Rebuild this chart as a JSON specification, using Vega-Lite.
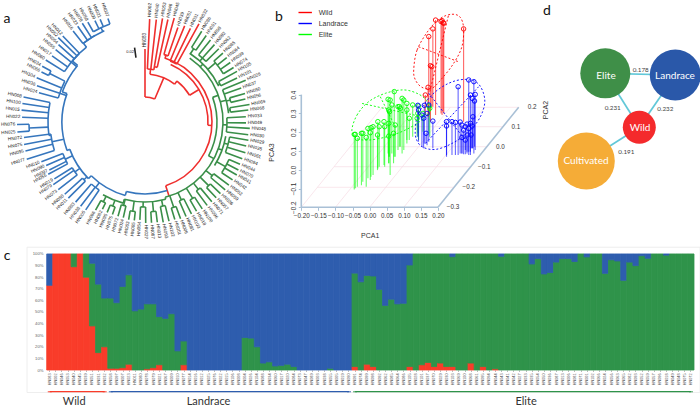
{"$schema":"https://vega.github.io/schema/vega-lite/v6.json","padding":0,"background":"white","config":{"view":{"stroke":null},"text":{"font":"Liberation Sans"},"axis":{"labelFont":"Liberation Sans","titleFont":"Liberation Sans","grid":false}},
"resolve":{"scale":{"color":"independent","stroke":"independent","size":"independent"}},
"datasets":{
"tips":[
{"s":"HN083","c":"W","t":0,"r":25,"r2":73,"l":82},{"s":"HN002","c":"W","t":2.6,"r":53,"r2":103,"l":112},{"s":"HN040","c":"W","t":6.3,"r":53,"r2":103,"l":112},{"s":"HN053","c":"W","t":9.6,"r":56,"r2":105,"l":114},{"s":"HN046","c":"W","t":12.6,"r":56,"r2":105,"l":114},{"s":"HN045","c":"W","t":15.7,"r":70,"r2":108,"l":117},{"s":"HN039","c":"W","t":19.2,"r":70,"r2":100,"l":109},{"s":"HN051","c":"W","t":22.4,"r":66,"r2":104,"l":113},{"s":"HN031","c":"W","t":25.9,"r":66,"r2":104,"l":113},{"s":"HN032","c":"W","t":28.8,"r":66,"r2":112,"l":121},
{"s":"HN086","c":"E","t":32,"r":88,"r2":107,"l":116},{"s":"HN091","c":"E","t":35.3,"r":88,"r2":106,"l":115},{"s":"HN098","c":"E","t":38.6,"r":86,"r2":105,"l":114},{"s":"HN092","c":"E","t":41.9,"r":86,"r2":104,"l":113},{"s":"HN062","c":"E","t":45.2,"r":86,"r2":104,"l":113},{"s":"HN085","c":"E","t":48.5,"r":92,"r2":104,"l":113},{"s":"HN064","c":"E","t":51.8,"r":92,"r2":104,"l":113},{"s":"HN099","c":"E","t":55.1,"r":92,"r2":104,"l":113},{"s":"HN074","c":"E","t":58.4,"r":92,"r2":104,"l":113},{"s":"HN105","c":"E","t":61.2,"r":84,"r2":105,"l":114},{"s":"HN101","c":"E","t":64.5,"r":84,"r2":102,"l":111},{"s":"HN028","c":"E","t":67.5,"r":84,"r2":109,"l":118},{"s":"HN037","c":"E","t":70.6,"r":84,"r2":102,"l":111},{"s":"HN050","c":"E","t":74.1,"r":88,"r2":104,"l":113},{"s":"HN056","c":"E","t":77.1,"r":88,"r2":103,"l":112},{"s":"HN069","c":"E","t":80.5,"r":86,"r2":106,"l":115},{"s":"HN068","c":"E","t":83.4,"r":86,"r2":104,"l":113},{"s":"HN033","c":"E","t":87,"r":82,"r2":101,"l":110},{"s":"HN049","c":"E","t":90.5,"r":82,"r2":101,"l":110},{"s":"HN048","c":"E","t":93.5,"r":82,"r2":105,"l":114},{"s":"HN030","c":"E","t":97,"r":82,"r2":104,"l":113},{"s":"HN029","c":"E","t":100,"r":86,"r2":105,"l":114},{"s":"HN035","c":"E","t":103.3,"r":86,"r2":104,"l":113},{"s":"HN061","c":"E","t":107,"r":86,"r2":105,"l":114},{"s":"HN094","c":"E","t":110.7,"r":86,"r2":104,"l":113},{"s":"HN044","c":"E","t":114,"r":92,"r2":104,"l":113},{"s":"HN070","c":"E","t":117.2,"r":92,"r2":105,"l":114},{"s":"HN041","c":"E","t":120,"r":92,"r2":106,"l":115},{"s":"HN042","c":"E","t":123.5,"r":92,"r2":105,"l":114},
{"s":"HN052","c":"E","t":127,"r":86,"r2":105,"l":114},{"s":"HN059","c":"E","t":130.2,"r":86,"r2":105,"l":114},{"s":"HN036","c":"E","t":133.5,"r":90,"r2":104,"l":113},{"s":"HN057","c":"E","t":136.8,"r":90,"r2":104,"l":113},{"s":"HN071","c":"E","t":140,"r":86,"r2":104,"l":113},{"s":"HN096","c":"E","t":143.3,"r":86,"r2":104,"l":113},{"s":"HN100","c":"E","t":146.6,"r":90,"r2":104,"l":113},{"s":"HN018","c":"E","t":150,"r":90,"r2":103,"l":112},{"s":"HN103","c":"E","t":153.2,"r":86,"r2":103,"l":112},{"s":"HN081","c":"E","t":156.5,"r":86,"r2":103,"l":112},{"s":"HN006","c":"E","t":159.8,"r":90,"r2":103,"l":112},{"s":"HN001","c":"E","t":163,"r":90,"r2":102,"l":111},{"s":"HN102","c":"E","t":166.4,"r":86,"r2":102,"l":111},{"s":"HN093","c":"E","t":169.7,"r":86,"r2":102,"l":111},{"s":"HN013","c":"E","t":173,"r":90,"r2":101,"l":110},{"s":"HN087","c":"E","t":176.3,"r":90,"r2":101,"l":110},{"s":"HN027","c":"E","t":179.6,"r":85,"r2":101,"l":110},{"s":"HN054","c":"E","t":183,"r":85,"r2":98,"l":107},{"s":"HN065","c":"E","t":186.2,"r":90,"r2":99,"l":108},{"s":"HN063","c":"E","t":189.5,"r":90,"r2":99,"l":108},{"s":"HN024","c":"E","t":192.8,"r":86,"r2":98,"l":107},{"s":"HN072","c":"E","t":196,"r":86,"r2":98,"l":107},{"s":"HN075","c":"E","t":199.4,"r":90,"r2":98,"l":107},{"s":"HN095","c":"E","t":202.7,"r":90,"r2":98,"l":107},{"s":"HN082","c":"E","t":206,"r":90,"r2":97,"l":106},{"s":"HN066","c":"E","t":209.3,"r":90,"r2":101,"l":110},
{"s":"HN005","c":"L","t":214,"r":82,"r2":106,"l":115},{"s":"HN038","c":"L","t":217.4,"r":82,"r2":106,"l":115},{"s":"HN003","c":"L","t":220.9,"r":82,"r2":106,"l":115},{"s":"HN011","c":"L","t":225.2,"r":84,"r2":108,"l":117},{"s":"HN080","c":"L","t":228,"r":84,"r2":108,"l":117},{"s":"HN073","c":"L","t":232,"r":86,"r2":110,"l":119},{"s":"HN079","c":"L","t":235.7,"r":86,"r2":111,"l":120},{"s":"HN019","c":"L","t":237.9,"r":86,"r2":107,"l":116},{"s":"HN055","c":"L","t":241.6,"r":88,"r2":110,"l":119},{"s":"HN097","c":"L","t":243.4,"r":88,"r2":107,"l":116},{"s":"HN090","c":"L","t":246.2,"r":88,"r2":108,"l":117},{"s":"HN010","c":"L","t":249,"r":88,"r2":111,"l":120},
{"s":"HN077","c":"L","t":252.5,"r":95,"r2":124,"l":133},{"s":"HN095","c":"L","t":256.4,"r":95,"r2":123,"l":132},{"s":"HN075","c":"L","t":259.5,"r":95,"r2":123,"l":132},{"s":"HN072","c":"L","t":262.7,"r":95,"r2":122,"l":131},{"s":"HN025","c":"L","t":265.5,"r":116,"r2":128,"l":137},{"s":"HN076","c":"L","t":268.9,"r":116,"r2":128,"l":137},{"s":"HN022","c":"L","t":272.2,"r":97,"r2":123,"l":132},{"s":"HN015","c":"L","t":275.5,"r":97,"r2":124,"l":133},{"s":"HN100","c":"L","t":278.6,"r":97,"r2":124,"l":133},{"s":"HN008","c":"L","t":281.6,"r":97,"r2":124,"l":133},
{"s":"HN024","c":"L","t":285.4,"r":90,"r2":110,"l":119},{"s":"HN036","c":"L","t":288.6,"r":90,"r2":114,"l":123},{"s":"HN104","c":"L","t":292.2,"r":90,"r2":117,"l":126},{"s":"HN066","c":"L","t":295.8,"r":107,"r2":115,"l":124},{"s":"HN034","c":"L","t":298.5,"r":107,"r2":117,"l":126},{"s":"HN060","c":"L","t":302,"r":95,"r2":117,"l":126},{"s":"HN017","c":"L","t":305.4,"r":95,"r2":114,"l":123},{"s":"HN055","c":"L","t":309,"r":95,"r2":115,"l":124},{"s":"HN054","c":"L","t":311.8,"r":95,"r2":116,"l":125},{"s":"HN052","c":"L","t":314.2,"r":95,"r2":121,"l":130},{"s":"HN012","c":"L","t":316.3,"r":95,"r2":119,"l":128},{"s":"HN016","c":"L","t":321.7,"r":100,"r2":116,"l":125},{"s":"HN023","c":"L","t":324.9,"r":100,"r2":117,"l":126},{"s":"HN078","c":"L","t":327.6,"r":100,"r2":117,"l":126},{"s":"HN058","c":"L","t":330.2,"r":104,"r2":115,"l":124},{"s":"HN009","c":"L","t":333.7,"r":104,"r2":113,"l":122},{"s":"HN021","c":"L","t":336.4,"r":104,"r2":112,"l":121},{"s":"HN007","c":"L","t":340.3,"r":104,"r2":110,"l":119}
],
"branches":[
{"c":"W","t":0,"t2":23,"r":25,"r2":25},{"c":"W","t":23,"t2":23,"r":25,"r2":48},{"c":"W","t":2.6,"t2":9.6,"r":53,"r2":53},{"c":"W","t":6,"t2":6,"r":48,"r2":53},{"c":"W","t":9.6,"t2":12.6,"r":56,"r2":56},{"c":"W","t":9.6,"t2":9.6,"r":53,"r2":56},{"c":"W","t":6,"t2":38,"r":48,"r2":48},{"c":"W","t":38,"t2":38,"r":48,"r2":52},{"c":"W","t":38,"t2":59,"r":52,"r2":52},{"c":"W","t":59,"t2":59,"r":52,"r2":63},{"c":"W","t":24,"t2":93,"r":63,"r2":63},{"c":"W","t":17,"t2":162,"r":67,"r2":67},{"c":"W","t":93,"t2":93,"r":63,"r2":67},{"c":"W","t":15.7,"t2":19.2,"r":70,"r2":70},{"c":"W","t":17.5,"t2":17.5,"r":67,"r2":70},{"c":"W","t":22.4,"t2":28.8,"r":66,"r2":66},{"c":"W","t":162,"t2":162,"r":67,"r2":78},
{"c":"E","t":35,"t2":165,"r":78,"r2":78},{"c":"E","t":165,"t2":195,"r":80,"r2":80},{"c":"E","t":195,"t2":210,"r":84,"r2":84},{"c":"E","t":165,"t2":165,"r":78,"r2":80},{"c":"E","t":195,"t2":195,"r":80,"r2":84},{"c":"E","t":70,"t2":118,"r":72,"r2":72},{"c":"E","t":70,"t2":70,"r":72,"r2":78},{"c":"E","t":118,"t2":118,"r":72,"r2":78},
{"c":"E","t":33,"t2":64,"r":82,"r2":82},{"c":"E","t":45,"t2":45,"r":78,"r2":82},{"c":"E","t":32,"t2":35.3,"r":88,"r2":88},{"c":"E","t":33.6,"t2":33.6,"r":82,"r2":88},{"c":"E","t":38.6,"t2":45.2,"r":86,"r2":86},{"c":"E","t":42,"t2":42,"r":82,"r2":86},{"c":"E","t":48.5,"t2":58.4,"r":92,"r2":92},{"c":"E","t":50,"t2":50,"r":82,"r2":92},{"c":"E","t":61.2,"t2":64.5,"r":84,"r2":84},{"c":"E","t":63,"t2":63,"r":82,"r2":84},
{"c":"E","t":67.5,"t2":84,"r":84,"r2":84},{"c":"E","t":75,"t2":75,"r":78,"r2":84},{"c":"E","t":74.1,"t2":77.1,"r":88,"r2":88},{"c":"E","t":75.5,"t2":75.5,"r":84,"r2":88},{"c":"E","t":80.5,"t2":83.4,"r":86,"r2":86},{"c":"E","t":82,"t2":82,"r":84,"r2":86},{"c":"E","t":87,"t2":97,"r":82,"r2":82},{"c":"E","t":92,"t2":92,"r":78,"r2":82},{"c":"E","t":100,"t2":122,"r":82,"r2":82},{"c":"E","t":110,"t2":110,"r":78,"r2":82},{"c":"E","t":100,"t2":110.7,"r":86,"r2":86},{"c":"E","t":105,"t2":105,"r":82,"r2":86},{"c":"E","t":114,"t2":123.5,"r":92,"r2":92},{"c":"E","t":119,"t2":119,"r":82,"r2":92},
{"c":"E","t":127,"t2":130.2,"r":86,"r2":86},{"c":"E","t":128.6,"t2":128.6,"r":78,"r2":86},{"c":"E","t":133.5,"t2":136.8,"r":90,"r2":90},{"c":"E","t":135,"t2":135,"r":78,"r2":90},{"c":"E","t":140,"t2":143.3,"r":86,"r2":86},{"c":"E","t":141.6,"t2":141.6,"r":78,"r2":86},{"c":"E","t":146.6,"t2":150,"r":90,"r2":90},{"c":"E","t":148,"t2":148,"r":78,"r2":90},{"c":"E","t":153.2,"t2":156.5,"r":86,"r2":86},{"c":"E","t":155,"t2":155,"r":78,"r2":86},{"c":"E","t":159.8,"t2":163,"r":90,"r2":90},{"c":"E","t":161.4,"t2":161.4,"r":78,"r2":90},{"c":"E","t":166.4,"t2":169.7,"r":86,"r2":86},{"c":"E","t":168,"t2":168,"r":80,"r2":86},{"c":"E","t":173,"t2":176.3,"r":90,"r2":90},{"c":"E","t":174.6,"t2":174.6,"r":80,"r2":90},{"c":"E","t":179.6,"t2":183,"r":85,"r2":85},{"c":"E","t":181.3,"t2":181.3,"r":80,"r2":85},{"c":"E","t":186.2,"t2":189.5,"r":90,"r2":90},{"c":"E","t":187.8,"t2":187.8,"r":80,"r2":90},{"c":"E","t":192.8,"t2":196,"r":86,"r2":86},{"c":"E","t":194.4,"t2":194.4,"r":80,"r2":86},{"c":"E","t":199.4,"t2":202.7,"r":90,"r2":90},{"c":"E","t":201,"t2":201,"r":84,"r2":90},{"c":"E","t":206,"t2":209.3,"r":90,"r2":90},{"c":"E","t":207.6,"t2":207.6,"r":84,"r2":90},
{"c":"L","t":162,"t2":195,"r":72,"r2":72},{"c":"L","t":195,"t2":225,"r":76,"r2":76},{"c":"L","t":225,"t2":250,"r":80,"r2":80},{"c":"L","t":250,"t2":290,"r":83,"r2":83},{"c":"L","t":290,"t2":310,"r":88,"r2":88},{"c":"L","t":310,"t2":322,"r":95,"r2":95},{"c":"L","t":322,"t2":336,"r":100,"r2":100},{"c":"L","t":195,"t2":195,"r":72,"r2":76},{"c":"L","t":225,"t2":225,"r":76,"r2":80},{"c":"L","t":250,"t2":250,"r":80,"r2":83},{"c":"L","t":290,"t2":290,"r":83,"r2":88},{"c":"L","t":310,"t2":310,"r":88,"r2":95},{"c":"L","t":322,"t2":322,"r":95,"r2":100},
{"c":"L","t":214,"t2":220.9,"r":82,"r2":82},{"c":"L","t":217,"t2":217,"r":76,"r2":82},{"c":"L","t":225.2,"t2":228,"r":84,"r2":84},{"c":"L","t":226.6,"t2":226.6,"r":80,"r2":84},{"c":"L","t":232,"t2":237.9,"r":86,"r2":86},{"c":"L","t":234.5,"t2":234.5,"r":80,"r2":86},{"c":"L","t":241.6,"t2":249,"r":88,"r2":88},{"c":"L","t":245,"t2":245,"r":80,"r2":88},
{"c":"L","t":252.5,"t2":262.7,"r":95,"r2":95},{"c":"L","t":258,"t2":258,"r":83,"r2":95},{"c":"L","t":262,"t2":281.6,"r":97,"r2":97},{"c":"L","t":262,"t2":262,"r":95,"r2":97},{"c":"L","t":267,"t2":267,"r":97,"r2":116},{"c":"L","t":265.5,"t2":268.9,"r":116,"r2":116},
{"c":"L","t":285.4,"t2":297,"r":90,"r2":90},{"c":"L","t":288.6,"t2":288.6,"r":83,"r2":90},{"c":"L","t":297,"t2":297,"r":90,"r2":107},{"c":"L","t":295.8,"t2":298.5,"r":107,"r2":107},{"c":"L","t":302,"t2":316.3,"r":95,"r2":95},{"c":"L","t":309,"t2":309,"r":88,"r2":95},{"c":"L","t":321.7,"t2":330,"r":100,"r2":100},{"c":"L","t":330.2,"t2":340.3,"r":104,"r2":104},{"c":"L","t":335,"t2":335,"r":100,"r2":104},
{"c":"S","t":352,"t2":352,"r":65,"r2":75}
],
"pca":[
{"g":"Elite","u":-0.045,"top":0.188,"base":-0.105},{"g":"Elite","u":-0.042,"top":0.188,"base":-0.099},{"g":"Elite","u":-0.036,"top":0.167,"base":-0.091},{"g":"Elite","u":-0.024,"top":0.194,"base":-0.082},{"g":"Elite","u":-0.02,"top":0.194,"base":-0.064},{"g":"Elite","u":-0.01,"top":0.172,"base":-0.091},{"g":"Elite","u":-0.005,"top":0.22,"base":-0.046},{"g":"Elite","u":0.002,"top":0.197,"base":-0.055},{"g":"Elite","u":0.004,"top":0.224,"base":-0.037},{"g":"Elite","u":0.01,"top":0.229,"base":-0.028},{"g":"Elite","u":0.023,"top":0.185,"base":-0.002},{"g":"Elite","u":0.024,"top":0.256,"base":0.007},{"g":"Elite","u":0.028,"top":0.229,"base":0.016},{"g":"Elite","u":0.042,"top":0.256,"base":0.025},{"g":"Elite","u":0.044,"top":0.229,"base":0.016},{"g":"Elite","u":0.056,"top":0.247,"base":0.034},{"g":"Elite","u":0.056,"top":0.179,"base":0.069},{"g":"Elite","u":0.06,"top":0.371,"base":-0.028},{"g":"Elite","u":0.056,"top":0.318,"base":0.034},{"g":"Elite","u":0.07,"top":0.194,"base":0.034},{"g":"Elite","u":0.072,"top":0.416,"base":0.069},{"g":"Elite","u":0.075,"top":0.238,"base":0.069},{"g":"Elite","u":0.065,"top":0.345,"base":0.087},{"g":"Elite","u":0.054,"top":0.375,"base":0.087},{"g":"Elite","u":0.058,"top":0.309,"base":0.069},{"g":"Elite","u":0.087,"top":0.336,"base":0.123},{"g":"Elite","u":0.095,"top":0.38,"base":0.087},{"g":"Elite","u":0.1,"top":0.371,"base":0.105},{"g":"Elite","u":0.083,"top":0.336,"base":0.105},{"g":"Elite","u":0.09,"top":0.327,"base":0.123},{"g":"Elite","u":0.109,"top":0.353,"base":0.158},{"g":"Elite","u":0.109,"top":0.318,"base":0.14},{"g":"Elite","u":0.116,"top":0.274,"base":0.158},{"g":"Elite","u":0.126,"top":0.345,"base":0.176},{"g":"Elite","u":0.143,"top":0.339,"base":0.158},{"g":"Elite","u":0.141,"top":0.3,"base":0.194},{"g":"Elite","u":0.176,"top":0.327,"base":0.176},{"g":"Elite","u":0.173,"top":0.339,"base":0.194},{"g":"Elite","u":0.156,"top":0.3,"base":0.202},{"g":"Elite","u":0.139,"top":0.274,"base":0.176},
{"g":"Landrace","u":0.141,"top":0.343,"base":0.176},{"g":"Landrace","u":0.143,"top":0.318,"base":0.149},{"g":"Landrace","u":0.16,"top":0.343,"base":0.14},{"g":"Landrace","u":0.153,"top":0.291,"base":0.123},{"g":"Landrace","u":0.173,"top":0.345,"base":0.149},{"g":"Landrace","u":0.168,"top":0.3,"base":0.131},{"g":"Landrace","u":0.158,"top":0.274,"base":0.114},{"g":"Landrace","u":0.165,"top":0.194,"base":0.14},{"g":"Landrace","u":0.185,"top":0.259,"base":0.114},{"g":"Landrace","u":0.225,"top":0.256,"base":0.069},{"g":"Landrace","u":0.225,"top":0.233,"base":0.078},{"g":"Landrace","u":0.241,"top":0.256,"base":0.078},{"g":"Landrace","u":0.251,"top":0.252,"base":0.078},{"g":"Landrace","u":0.265,"top":0.254,"base":0.087},{"g":"Landrace","u":0.259,"top":0.442,"base":0.078},{"g":"Landrace","u":0.29,"top":0.478,"base":0.078},{"g":"Landrace","u":0.305,"top":0.469,"base":0.087},{"g":"Landrace","u":0.295,"top":0.398,"base":0.096},{"g":"Landrace","u":0.309,"top":0.401,"base":0.105},{"g":"Landrace","u":0.3,"top":0.38,"base":0.114},{"g":"Landrace","u":0.307,"top":0.366,"base":0.123},{"g":"Landrace","u":0.302,"top":0.282,"base":0.114},{"g":"Landrace","u":0.295,"top":0.247,"base":0.078},{"g":"Landrace","u":0.285,"top":0.243,"base":0.087},{"g":"Landrace","u":0.27,"top":0.238,"base":0.087},{"g":"Landrace","u":0.28,"top":0.229,"base":0.083},{"g":"Landrace","u":0.275,"top":0.211,"base":0.083},{"g":"Landrace","u":0.29,"top":0.22,"base":0.096},{"g":"Landrace","u":0.3,"top":0.233,"base":0.114},{"g":"Landrace","u":0.27,"top":0.172,"base":0.087},{"g":"Landrace","u":0.285,"top":0.185,"base":0.096},{"g":"Landrace","u":0.297,"top":0.185,"base":0.114},{"g":"Landrace","u":0.28,"top":0.158,"base":0.105},
{"g":"Wild","u":0.193,"top":0.797,"base":0.291},{"g":"Wild","u":0.212,"top":0.794,"base":0.291},{"g":"Wild","u":0.217,"top":0.78,"base":0.3},{"g":"Wild","u":0.275,"top":0.75,"base":0.256},{"g":"Wild","u":0.185,"top":0.75,"base":0.336},{"g":"Wild","u":0.173,"top":0.709,"base":0.291},{"g":"Wild","u":0.178,"top":0.554,"base":0.256},{"g":"Wild","u":0.182,"top":0.549,"base":0.336},{"g":"Wild","u":0.171,"top":0.439,"base":0.282},{"g":"Wild","u":0.163,"top":0.398,"base":0.291},{"g":"Wild","u":0.209,"top":0.789,"base":0.3},{"g":"Wild","u":0.215,"top":0.783,"base":0.309}
],
"ellipses":[
{"g":"Elite","o":1,"u":-0.052,"v":0.208},{"g":"Elite","o":2,"u":-0.037,"v":0.291},{"g":"Elite","o":3,"u":-0.003,"v":0.362},{"g":"Elite","o":4,"u":0.046,"v":0.407},{"g":"Elite","o":5,"u":0.1,"v":0.425},{"g":"Elite","o":6,"u":0.143,"v":0.403},{"g":"Elite","o":7,"u":0.17,"v":0.362},{"g":"Elite","o":8,"u":0.178,"v":0.318},{"g":"Elite","o":9,"u":0.153,"v":0.265},{"g":"Elite","o":10,"u":0.104,"v":0.211},{"g":"Elite","o":11,"u":0.051,"v":0.176},{"g":"Elite","o":12,"u":-0.003,"v":0.158},{"g":"Elite","o":13,"u":-0.037,"v":0.167},
{"g":"Landrace","o":1,"u":0.134,"v":0.22},{"g":"Landrace","o":2,"u":0.143,"v":0.3},{"g":"Landrace","o":3,"u":0.182,"v":0.398},{"g":"Landrace","o":4,"u":0.231,"v":0.46},{"g":"Landrace","o":5,"u":0.28,"v":0.481},{"g":"Landrace","o":6,"u":0.319,"v":0.456},{"g":"Landrace","o":7,"u":0.337,"v":0.371},{"g":"Landrace","o":8,"u":0.324,"v":0.282},{"g":"Landrace","o":9,"u":0.29,"v":0.202},{"g":"Landrace","o":10,"u":0.241,"v":0.14},{"g":"Landrace","o":11,"u":0.192,"v":0.108},{"g":"Landrace","o":12,"u":0.153,"v":0.123},{"g":"Landrace","o":13,"u":0.136,"v":0.167},
{"g":"Wild","o":1,"u":0.129,"v":0.531},{"g":"Wild","o":2,"u":0.139,"v":0.638},{"g":"Wild","o":3,"u":0.173,"v":0.744},{"g":"Wild","o":4,"u":0.207,"v":0.806},{"g":"Wild","o":5,"u":0.241,"v":0.828},{"g":"Wild","o":6,"u":0.265,"v":0.812},{"g":"Wild","o":7,"u":0.275,"v":0.753},{"g":"Wild","o":8,"u":0.27,"v":0.655},{"g":"Wild","o":9,"u":0.246,"v":0.567},{"g":"Wild","o":10,"u":0.212,"v":0.487},{"g":"Wild","o":11,"u":0.182,"v":0.433},{"g":"Wild","o":12,"u":0.153,"v":0.439},{"g":"Wild","o":13,"u":0.134,"v":0.478}
],
"struct":[
{"s":"HN083","K1":73,"K2":0,"K3":27},{"s":"HN002","K1":100,"K2":0,"K3":0},{"s":"HN046","K1":100,"K2":0,"K3":0},{"s":"HN053","K1":100,"K2":0,"K3":0},{"s":"HN040","K1":89,"K2":11,"K3":0},{"s":"HN045","K1":100,"K2":0,"K3":0},{"s":"HN039","K1":80,"K2":20,"K3":0},{"s":"HN051","K1":38,"K2":54,"K3":8},{"s":"HN031","K1":15,"K2":59,"K3":26},{"s":"HN032","K1":20,"K2":42,"K3":38},
{"s":"HN058","K1":1.5,"K2":60.5,"K3":38},{"s":"HN097","K1":1.5,"K2":56.5,"K3":42},{"s":"HN007","K1":2,"K2":70,"K3":28},{"s":"HN023","K1":5,"K2":77,"K3":18},{"s":"HN011","K1":0,"K2":51,"K3":49},{"s":"HN080","K1":0,"K2":52.5,"K3":47.5},{"s":"HN078","K1":1,"K2":56,"K3":43},{"s":"HN079","K1":2,"K2":55,"K3":43},{"s":"HN021","K1":4.5,"K2":41.5,"K3":54},{"s":"HN067","K1":0,"K2":44.5,"K3":55.5},{"s":"HN009","K1":0,"K2":48.5,"K3":51.5},{"s":"HN010","K1":0,"K2":16.5,"K3":83.5},{"s":"HN077","K1":4.5,"K2":20.5,"K3":75},
{"s":"HN014","K1":0,"K2":0,"K3":100},{"s":"HN016","K1":0,"K2":0,"K3":100},{"s":"HN012","K1":0,"K2":0,"K3":100},{"s":"HN025","K1":0,"K2":0,"K3":100},{"s":"HN076","K1":0,"K2":0,"K3":100},{"s":"HN022","K1":0,"K2":0,"K3":100},{"s":"HN015","K1":0,"K2":0,"K3":100},{"s":"HN106","K1":0,"K2":0,"K3":100},{"s":"HN008","K1":0,"K2":0,"K3":100},
{"s":"HN004","K1":0,"K2":28,"K3":72},{"s":"HN026","K1":0,"K2":27.5,"K3":72.5},{"s":"HN104","K1":0,"K2":20,"K3":80},{"s":"HN088","K1":0,"K2":6,"K3":94},{"s":"HN034","K1":0,"K2":7,"K3":93},{"s":"HN060","K1":0,"K2":3.5,"K3":96.5},{"s":"HN017","K1":0,"K2":4,"K3":96},{"s":"HN020","K1":0,"K2":5,"K3":95},{"s":"HN084","K1":0,"K2":3,"K3":97},{"s":"HN073","K1":0,"K2":0,"K3":100},{"s":"HN047","K1":0,"K2":0,"K3":100},{"s":"HN089","K1":0,"K2":0,"K3":100},{"s":"HN003","K1":0,"K2":0,"K3":100},{"s":"HN038","K1":0,"K2":0,"K3":100},{"s":"HN055","K1":0,"K2":1.5,"K3":98.5},{"s":"HN005","K1":0,"K2":0,"K3":100},{"s":"HN019","K1":0,"K2":0,"K3":100},{"s":"HN090","K1":0,"K2":0,"K3":100},
{"s":"HN091","K1":3,"K2":80.5,"K3":16.5},{"s":"HN074","K1":0,"K2":76,"K3":24},{"s":"HN099","K1":5,"K2":76.5,"K3":18.5},{"s":"HN098","K1":3,"K2":78,"K3":19},{"s":"HN092","K1":0,"K2":69.5,"K3":30.5},{"s":"HN062","K1":0,"K2":55.7,"K3":44.3},{"s":"HN085","K1":0,"K2":61,"K3":39},{"s":"HN064","K1":0,"K2":57,"K3":43},{"s":"HN086","K1":0,"K2":57.5,"K3":42.5},{"s":"HN105","K1":3,"K2":87.5,"K3":9.5},{"s":"HN028","K1":0,"K2":100,"K3":0},{"s":"HN101","K1":4.5,"K2":95.5,"K3":0},{"s":"HN037","K1":6.5,"K2":93.5,"K3":0},{"s":"HN070","K1":3,"K2":97,"K3":0},{"s":"HN029","K1":6,"K2":94,"K3":0},{"s":"HN030","K1":3,"K2":97,"K3":0},{"s":"HN103","K1":3,"K2":94.7,"K3":2.3},{"s":"HN069","K1":0,"K2":100,"K3":0},{"s":"HN100","K1":0,"K2":100,"K3":0},{"s":"HN068","K1":6,"K2":94,"K3":0},{"s":"HN061","K1":0,"K2":100,"K3":0},{"s":"HN095","K1":3,"K2":97,"K3":0},{"s":"HN094","K1":0,"K2":100,"K3":0},{"s":"HN044","K1":1,"K2":99,"K3":0},{"s":"HN043","K1":0,"K2":98,"K3":2},{"s":"HN041","K1":0,"K2":100,"K3":0},{"s":"HN042","K1":0,"K2":100,"K3":0},{"s":"HN027","K1":0,"K2":100,"K3":0},{"s":"HN033","K1":0,"K2":100,"K3":0},{"s":"HN035","K1":0,"K2":91.4,"K3":8.6},{"s":"HN054","K1":0,"K2":96,"K3":4},{"s":"HN050","K1":0,"K2":82.8,"K3":17.2},{"s":"HN036","K1":0,"K2":84,"K3":16},{"s":"HN087","K1":0,"K2":93,"K3":7},{"s":"HN013","K1":0,"K2":96,"K3":4},{"s":"HN006","K1":0,"K2":96,"K3":4},{"s":"HN081","K1":0,"K2":93.5,"K3":6.5},{"s":"HN071","K1":0,"K2":100,"K3":0},{"s":"HN001","K1":0,"K2":97.5,"K3":2.5},{"s":"HN102","K1":0,"K2":100,"K3":0},{"s":"HN066","K1":0,"K2":100,"K3":0},{"s":"HN024","K1":0,"K2":83.3,"K3":16.7},{"s":"HN056","K1":0,"K2":95,"K3":5},{"s":"HN063","K1":0,"K2":94,"K3":6},{"s":"HN065","K1":0,"K2":77.3,"K3":22.7},{"s":"HN082","K1":0,"K2":93,"K3":7},{"s":"HN093","K1":0,"K2":90,"K3":10},{"s":"HN052","K1":0,"K2":98.5,"K3":1.5},{"s":"HN059","K1":0,"K2":96.3,"K3":3.7},{"s":"HN057","K1":0,"K2":100,"K3":0},{"s":"HN096","K1":0,"K2":100,"K3":0},{"s":"HN018","K1":0,"K2":99,"K3":1},{"s":"HN049","K1":0,"K2":100,"K3":0},{"s":"HN048","K1":0,"K2":100,"K3":0},{"s":"HN075","K1":0,"K2":100,"K3":0},{"s":"HN072","K1":0,"K2":100,"K3":0}
]
},
"vconcat":[
{"hconcat":[
{"width":286,"height":244,"layer":[
{"data":{"name":"tips"},"mark":{"type":"arc","fill":"transparent","strokeWidth":1.6},"encoding":{
"theta":{"field":"t","type":"quantitative","stack":null,"scale":{"domain":[0,360],"range":[0,6.28318]}},"theta2":{"field":"t"},
"radius":{"field":"r","type":"quantitative","scale":{"type":"linear","domain":[0,200],"range":[0,200]}},"radius2":{"field":"r2"},
"stroke":{"field":"c","type":"nominal","scale":{"domain":["W","E","L","S"],"range":["#ef2f2e","#3a8f49","#3676bd","#222222"]},"legend":null}}},
{"data":{"name":"branches"},"mark":{"type":"arc","fill":"transparent","strokeWidth":1.6},"encoding":{
"theta":{"field":"t","type":"quantitative","stack":null,"scale":{"domain":[0,360],"range":[0,6.28318]}},"theta2":{"field":"t2"},
"radius":{"field":"r","type":"quantitative","scale":{"type":"linear","domain":[0,200],"range":[0,200]}},"radius2":{"field":"r2"},
"stroke":{"field":"c","type":"nominal","scale":{"domain":["W","E","L","S"],"range":["#ef2f2e","#3a8f49","#3676bd","#222222"]},"legend":null}}},
{"data":{"name":"tips"},"mark":{"type":"text","fontSize":4.6,"color":"#222222","align":"center","baseline":"middle"},"encoding":{
"text":{"field":"s"},
"theta":{"field":"t","type":"quantitative","stack":null,"scale":{"domain":[0,360],"range":[0,6.28318]}},
"radius":{"field":"l","type":"quantitative","scale":{"type":"linear","domain":[0,200],"range":[0,200]}},
"angle":{"field":"t","type":"quantitative","scale":{"domain":[0,180,180.01,360],"range":[-90,90,-90,90]},"legend":null}}},
{"data":{"values":[{"txt":"0.02","t":348,"r":71.5}]},"mark":{"type":"text","fontSize":4,"color":"#222222"},"encoding":{"text":{"field":"txt"},"theta":{"field":"t","type":"quantitative","stack":null,"scale":{"domain":[0,360],"range":[0,6.28318]}},"radius":{"field":"r","type":"quantitative","scale":{"type":"linear","domain":[0,200],"range":[0,200]}}}},
{"data":{"values":[{"txt":"a","t":306.7,"r":172}]},"mark":{"type":"text","fontSize":14,"font":"Lato","color":"#111111"},"encoding":{"text":{"field":"txt"},"theta":{"field":"t","type":"quantitative","stack":null,"scale":{"domain":[0,360],"range":[0,6.28318]}},"radius":{"field":"r","type":"quantitative","scale":{"type":"linear","domain":[0,200],"range":[0,200]}}}}
]},
{"width":234,"height":246,"encoding":{
"x":{"type":"quantitative","scale":{"domain":[-0.2389,0.4459],"nice":false,"zero":false},"axis":{"orient":"bottom","offset":-38.7,"values":[-0.2,-0.15,-0.1,-0.05,0,0.05,0.1,0.15,0.2],"format":".2f","domain":false,"tickColor":"#a9c0d6","tickSize":3,"labelFontSize":6.3,"labelColor":"#333333","labelPadding":2,"labelFlush":false,"labelOverlap":false,"title":"PCA1","titleFontSize":7,"titleFontWeight":"normal","titleColor":"#333333","titleX":81.7,"titleY":24}},
"y":{"type":"quantitative","scale":{"domain":[-0.4061,0.9038],"nice":false,"zero":false},"axis":{"orient":"left","offset":-13.3,"values":[-0.2,-0.1,0,0.1,0.2,0.3,0.4],"format":".1f","domain":false,"tickColor":"#a9c0d6","tickSize":3,"labelAngle":-90,"labelAlign":"center","labelBaseline":"bottom","labelFontSize":6.3,"labelColor":"#333333","labelPadding":2,"labelOverlap":false,"title":"PCA3","titleFontSize":7,"titleFontWeight":"normal","titleColor":"#333333","titleX":-27,"titleY":152}}},
"layer":[
{"data":{"values":[{"u":-0.2,"v":-0.2,"u2":0.0362,"v2":0.3325},{"u":-0.1,"v":-0.2,"u2":0.1362,"v2":0.3325},{"u":0,"v":-0.2,"u2":0.2362,"v2":0.3325},{"u":0.1,"v":-0.2,"u2":0.3362,"v2":0.3325},{"u":-0.1528,"v":-0.0935,"u2":0.2472,"v2":-0.0935},{"u":-0.1041,"v":0.0162,"u2":0.2959,"v2":0.0162},{"u":-0.0569,"v":0.1227,"u2":0.3431,"v2":0.1227},{"u":-0.0097,"v":0.2292,"u2":0.3903,"v2":0.2292},{"u":0.0362,"v":0.3325,"u2":0.4362,"v2":0.3325}]},"mark":{"type":"rule","stroke":"#f6dbe4","strokeWidth":0.7},"encoding":{"x":{"field":"u"},"y":{"field":"v"},"x2":{"field":"u2"},"y2":{"field":"v2"}}},
{"data":{"values":[{"u":-0.2,"v":-0.2,"u2":0.2,"v2":-0.2,"w":"front"},{"u":-0.2,"v":-0.2,"u2":-0.2,"v2":0.4,"w":"front"},{"u":0.2,"v":-0.2,"u2":0.4362,"v2":0.3325,"w":"side"}]},"mark":{"type":"rule","stroke":"#a9c0d6","strokeWidth":1.6},"encoding":{"x":{"field":"u"},"y":{"field":"v"},"x2":{"field":"u2"},"y2":{"field":"v2"}}},
{"data":{"values":[{"u":0.4752,"v":0.3357,"lab":"0.2"},{"u":0.4283,"v":0.2292,"lab":"0.1"},{"u":0.3824,"v":0.1227,"lab":"0.0"},{"u":0.3355,"v":0.0162,"lab":"−0.1"},{"u":0.2899,"v":-0.0935,"lab":"−0.2"},{"u":0.244,"v":-0.2,"lab":"−0.3"}]},"mark":{"type":"text","fontSize":6.3,"color":"#333333"},"encoding":{"x":{"field":"u"},"y":{"field":"v"},"text":{"field":"lab"}}},
{"data":{"values":[{"u":0.5161,"v":0.3181,"lab":"PCA2"}]},"mark":{"type":"text","fontSize":7,"color":"#333333","angle":270},"encoding":{"x":{"field":"u"},"y":{"field":"v"},"text":{"field":"lab"}}},
{"data":{"values":[{"u":-0.2653,"v":0.8133,"lab":"b"}]},"mark":{"type":"text","fontSize":14,"font":"Lato","color":"#111111"},"encoding":{"x":{"field":"u"},"y":{"field":"v"},"text":{"field":"lab"}}},
{"data":{"name":"pca"},"mark":{"type":"rule","strokeWidth":1.1,"opacity":0.6},"encoding":{"x":{"field":"u"},"y":{"field":"base"},"y2":{"field":"top"},
"color":{"field":"g","type":"nominal","scale":{"domain":["Wild","Landrace","Elite"],"range":["#ff0000","#0000ff","#00ff00"]},"legend":{"title":null,"orient":"none","legendX":9.7,"legendY":5,"symbolType":"stroke","symbolSize":180,"symbolStrokeWidth":1.4,"symbolOpacity":1,"labelFontSize":7,"labelFont":"Liberation Sans","labelColor":"#333333","rowPadding":-4,"labelOffset":6}}}},
{"data":{"name":"ellipses"},"mark":{"type":"line","interpolate":"cardinal-closed","strokeDash":[2,2],"strokeWidth":0.9},"encoding":{"x":{"field":"u"},"y":{"field":"v"},"order":{"field":"o"},"color":{"field":"g","type":"nominal"}}},
{"data":{"values":[{"g":"Wild","u":0.143,"v":0.655,"u2":0.26,"v2":0.575},{"g":"Wild","u":0.176,"v":0.416,"u2":0.231,"v2":0.824},{"g":"Landrace","u":0.163,"v":0.14,"u2":0.319,"v2":0.442},{"g":"Landrace","u":0.173,"v":0.407,"u2":0.28,"v2":0.158},{"g":"Elite","u":-0.022,"v":0.353,"u2":0.153,"v2":0.282},{"g":"Elite","u":0.031,"v":0.389,"u2":0.075,"v2":0.229}]},"mark":{"type":"rule","strokeDash":[2,2],"strokeWidth":0.9},"encoding":{"x":{"field":"u"},"y":{"field":"v"},"x2":{"field":"u2"},"y2":{"field":"v2"},"color":{"field":"g","type":"nominal"}}},
{"data":{"name":"pca"},"mark":{"type":"point","filled":false,"size":20,"strokeWidth":0.9,"opacity":1},"encoding":{"x":{"field":"u"},"y":{"field":"top"},"color":{"field":"g","type":"nominal"}}}
]},
{"width":180,"height":246,"encoding":{
"x":{"type":"quantitative","scale":{"domain":[0,180],"nice":false},"axis":null},
"y":{"type":"quantitative","scale":{"domain":[246,0],"nice":false},"axis":null}},
"layer":[
{"data":{"values":[{"x":83.3,"y":73.3,"x2":153.3,"y2":75},{"x":83.3,"y":73.3,"x2":117.3,"y2":127.3},{"x":153.3,"y":75,"x2":117.3,"y2":127.3},{"x":117.3,"y":127.3,"x2":64.3,"y2":161}]},"mark":{"type":"rule","stroke":"#62c8d8","strokeWidth":1.7},"encoding":{"x":{"field":"x","type":"quantitative"},"y":{"field":"y","type":"quantitative"},"x2":{"field":"x2"},"y2":{"field":"y2"}}},
{"data":{"values":[{"n":"Elite","x":83.3,"y":73.3,"a":2500},{"n":"Landrace","x":153.3,"y":75,"a":2601},{"n":"Wild","x":117.3,"y":127.3,"a":1089},{"n":"Cultivated","x":64.3,"y":161,"a":3249}]},"mark":{"type":"circle","opacity":1},"encoding":{"x":{"field":"x","type":"quantitative"},"y":{"field":"y","type":"quantitative"},"size":{"field":"a","type":"quantitative","scale":{"domain":[0,3249],"range":[0,3249]},"legend":null},"color":{"field":"n","type":"nominal","scale":{"domain":["Elite","Landrace","Wild","Cultivated"],"range":["#3f8f48","#2a58a9","#f42a2c","#f5ac37"]},"legend":null}}},
{"data":{"values":[{"n":"Elite","x":84,"y":75.5},{"n":"Landrace","x":153,"y":75.5},{"n":"Wild","x":118,"y":128},{"n":"Cultivated","x":64,"y":161}]},"mark":{"type":"text","font":"Lato","fontSize":10,"color":"white"},"encoding":{"x":{"field":"x","type":"quantitative"},"y":{"field":"y","type":"quantitative"},"text":{"field":"n"}}},
{"data":{"values":[{"n":"0.178","x":118.7,"y":70},{"n":"0.231","x":90.7,"y":108.3},{"n":"0.232","x":143.3,"y":109},{"n":"0.191","x":104.3,"y":151.7}]},"mark":{"type":"text","font":"Lato","fontSize":6.3,"color":"#444444"},"encoding":{"x":{"field":"x","type":"quantitative"},"y":{"field":"y","type":"quantitative"},"text":{"field":"n"}}},
{"data":{"values":[{"n":"d","x":25,"y":10.7}]},"mark":{"type":"text","font":"Lato","fontSize":14,"color":"#111111"},"encoding":{"x":{"field":"x","type":"quantitative"},"y":{"field":"y","type":"quantitative"},"text":{"field":"n"}}}
]}
],"spacing":0,"bounds":"flush","resolve":{"scale":{"color":"independent","stroke":"independent","size":"independent"}}},
{"width":700,"height":123,"resolve":{"scale":{"x":"independent"}},"encoding":{"y":{"type":"quantitative","scale":{"domain":[0,106],"nice":false},"axis":{"title":null,"orient":"left","offset":-42,"values":[0,10,20,30,40,50,60,70,80,90,100],"labelExpr":"datum.value+'%'","labelFontSize":4.2,"labelColor":"#666666","labelOverlap":false,"labelSeparation":0,"domain":false,"ticks":false,"labelPadding":1}}},"layer":[
{"data":{"values":[{"x":25,"x2":698,"y":-19.4,"y2":-19.4},{"x":25,"x2":698,"y":105.8,"y2":105.8},{"x":25,"x2":25,"y":-19.4,"y2":105.8},{"x":698,"x2":698,"y":-19.4,"y2":105.8}]},"mark":{"type":"rule","stroke":"#eeeeee","strokeWidth":1},"encoding":{"x":{"field":"x","type":"quantitative","scale":{"domain":[0,700],"nice":false},"axis":null},"x2":{"field":"x2"},"y":{"field":"y"},"y2":{"field":"y2"}}},
{"data":{"values":[{"x":5,"y":98.3,"n":"c"}]},"mark":{"type":"text","font":"Lato","fontSize":14,"color":"#111111"},"encoding":{"x":{"field":"x","type":"quantitative","scale":{"domain":[0,700],"nice":false},"axis":null},"y":{"field":"y"},"text":{"field":"n"}}},
{"layer":[
{"data":{"name":"struct"},"transform":[{"fold":["K1","K2","K3"],"as":["k","v"]},{"filter":"datum.v>0"}],"mark":{"type":"bar","strokeWidth":0.8},"encoding":{
"x":{"field":"s","type":"nominal","sort":null,"scale":{"paddingInner":0,"paddingOuter":0,"range":[44.7,692]},"axis":{"title":null,"labelAngle":-90,"labelFontSize":3.8,"labelColor":"#555555","labelOverlap":false,"labelPadding":1.5,"domain":false,"tickSize":1.5,"tickColor":"#bbbbbb"}},
"y":{"field":"v","type":"quantitative","stack":"zero","scale":{"domain":[0,106],"nice":false},"axis":{"title":null,"orient":"left","offset":-42,"values":[0,10,20,30,40,50,60,70,80,90,100],"labelExpr":"datum.value+'%'","labelFontSize":4.2,"labelColor":"#666666","labelOverlap":false,"labelSeparation":0,"domain":false,"ticks":false,"labelPadding":1}},
"order":{"field":"k"},
"color":{"field":"k","type":"nominal","scale":{"domain":["K1","K2","K3"],"range":["#f93c2a","#2f934a","#2e5dae"]},"legend":null},
"stroke":{"field":"k","type":"nominal","scale":{"domain":["K1","K2","K3"],"range":["#f93c2a","#2f934a","#2e5dae"]},"legend":null}}},
{"data":{"values":[{"k":"K1","a":"HN083","b":"HN032"},{"k":"K3","a":"HN058","b":"HN090"},{"k":"K2","a":"HN091","b":"HN072"}]},"mark":{"type":"rule","strokeWidth":1.3},"encoding":{"x":{"field":"a","type":"nominal","sort":null},"x2":{"field":"b"},"y":{"datum":-18.7},"color":{"field":"k","type":"nominal"}}},
{"data":{"values":[{"k":"K1","e":"HN083"},{"k":"K1","e":"HN032"},{"k":"K3","e":"HN058"},{"k":"K3","e":"HN090"},{"k":"K2","e":"HN091"},{"k":"K2","e":"HN072"}]},"mark":{"type":"tick","size":4,"thickness":1.3},"encoding":{"x":{"field":"e","type":"nominal","sort":null},"y":{"datum":-18.7},"color":{"field":"k","type":"nominal"}}},
{"data":{"values":[{"e":"HN040","n":"Wild"},{"e":"HN025","n":"Landrace"},{"e":"HN033","n":"Elite"}]},"mark":{"type":"text","font":"Lato","fontSize":11,"color":"#333333"},"encoding":{"x":{"field":"e","type":"nominal","sort":null},"y":{"datum":-27.6},"text":{"field":"n"}}}
]}
]}
],"spacing":0}
